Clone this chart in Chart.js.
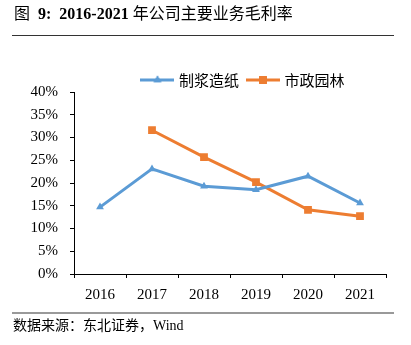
<!DOCTYPE html>
<html>
<head>
<meta charset="utf-8">
<script src="https://cdn.jsdelivr.net/npm/chart.js@4"></script>
<style>
  html, body { margin: 0; padding: 0; background: #fff; }
  #wrap { position: relative; width: 411px; height: 345px; overflow: hidden; }
  #title {
    position: absolute; left: 14px; top: 4px; font-size: 16px; line-height: 20px;
    font-family: "Liberation Serif", "Noto Sans CJK SC", serif; color: #000; white-space: nowrap;
  }
  #title b { font-weight: bold; }
  #rule1 { position: absolute; left: 12px; top: 35px; width: 382px; height: 1px; background: #333; }
  #rule2 { position: absolute; left: 12px; top: 312px; width: 382px; height: 2px; background: #999; }
  #source {
    position: absolute; left: 13px; top: 317px; font-size: 14px; line-height: 18px;
    font-family: "Liberation Serif", "Noto Sans CJK SC", serif; color: #000; white-space: nowrap;
  }
  canvas { position: absolute; left: 0; top: 0; }
</style>
</head>
<body>
<div id="wrap">
  <canvas id="chart" width="411" height="345"></canvas>
  <div id="title">图&nbsp;&nbsp;<b>9:&nbsp;&nbsp;2016-2021</b> 年公司主要业务毛利率</div>
  <div id="rule1"></div>
  <div id="rule2"></div>
  <div id="source">数据来源：东北证券，Wind</div>
</div>
<script>
/* ---- Data ---- */
const years = ["2016", "2017", "2018", "2019", "2020", "2021"];
const paper = [14.7, 23.1, 19.3, 18.5, 21.5, 15.6];      // 制浆造纸
const garden = [null, 31.6, 25.7, 20.2, 14.1, 12.7];     // 市政园林
const yTicks = [0, 5, 10, 15, 20, 25, 30, 35, 40];

/* ---- Colors ---- */
const BLUE = "#5B9BD5";
const ORANGE = "#ED7D31";

const serif = "'Liberation Serif', 'Times New Roman', serif";
const cjk = "'Noto Sans CJK SC', sans-serif";

// legend swatch: line with marker, like the Excel one
function swatch(color, style) {
  const c = document.createElement("canvas");
  c.width = 34; c.height = 12;
  const ctx = c.getContext("2d");
  ctx.strokeStyle = color; ctx.lineWidth = 3;
  ctx.beginPath(); ctx.moveTo(0, 6); ctx.lineTo(34, 6); ctx.stroke();
  ctx.fillStyle = color;
  Chart.helpers.drawPoint(ctx, { pointStyle: style, radius: style === "rect" ? 5.5 : 4.5, borderWidth: 0 }, 17, 6);
  ctx.fill();
  return c;
}

// nudge the legend to where the reference has it
const legendShift = {
  id: "legendShift",
  afterLayout(chart) {
    const l = chart.legend;
    const dx = 51, dy = 5.5;
    l.left += dx; l.right += dx; l.top += dy; l.bottom += dy;
    l.legendHitBoxes.forEach((h) => { h.left += dx; h.top += dy; });
  },
};

function series(label, data, color, style, r) {
  return {
    label, data,
    borderColor: color, backgroundColor: color,
    borderWidth: 3, tension: 0,
    pointStyle: style, pointRadius: r, pointBorderWidth: 0,
    pointBackgroundColor: color,
    spanGaps: false,
  };
}

const swatches = [swatch(BLUE, "triangle"), swatch(ORANGE, "rect")];

new Chart(document.getElementById("chart"), {
  type: "line",
  data: {
    labels: years,
    datasets: [
      series("制浆造纸", paper, BLUE, "triangle", 4.5),
      series("市政园林", garden, ORANGE, "rect", 5.5),
    ],
  },
  options: {
    responsive: false,
    animation: false,
    layout: { padding: { top: 57, left: 0, right: 25, bottom: 41 } },
    plugins: {
      tooltip: { enabled: false },
      legend: {
        position: "top",
        labels: {
          usePointStyle: true,
          pointStyleWidth: 28,
          padding: 10,
          color: "#222",
          font: { family: cjk, size: 15 },
          generateLabels: (chart) => chart.data.datasets.map((ds, i) => ({
            text: ds.label,
            pointStyle: swatches[i],
            fillStyle: ds.borderColor,
            strokeStyle: ds.borderColor,
            lineWidth: 0,
            datasetIndex: i,
            hidden: false,
          })),
        },
      },
    },
    scales: {
      x: {
        offset: true,
        grid: { offset: true, drawOnChartArea: false, drawTicks: true, tickLength: 4, color: "#000" },
        border: { color: "#000", width: 1 },
        ticks: { color: "#000", padding: 8, font: { family: serif, size: 15 } },
        afterFit: (s) => { s.height = 30; },
      },
      y: {
        min: 0, max: 40,
        afterBuildTicks: (s) => { s.ticks = yTicks.map((v) => ({ value: v })); },
        grid: { drawOnChartArea: false, drawTicks: true, tickLength: 4, color: "#000" },
        border: { color: "#000", width: 1 },
        ticks: { color: "#000", padding: 12, font: { family: serif, size: 15 }, callback: (v) => v + "%" },
        afterFit: (s) => { s.width = 74; },
      },
    },
  },
  plugins: [legendShift],
});
</script>
</body>
</html>
